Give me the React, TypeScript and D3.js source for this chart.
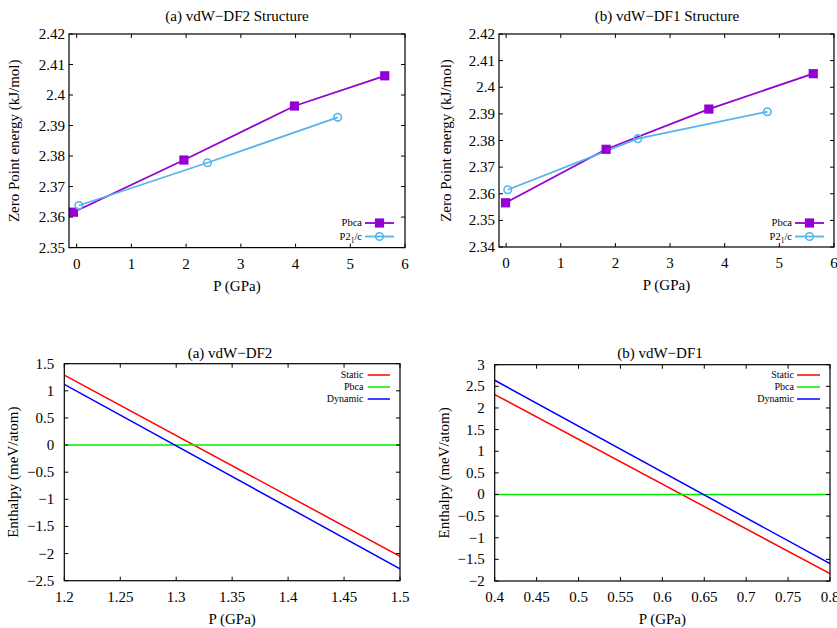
import React from "react";
import * as d3 from "d3";

// ---------- data ----------
const df2PbcaP = [-0.06, 1.96, 3.98, 5.63];
const df2PbcaZ = [2.3616, 2.3787, 2.3964, 2.4063];
const df2P21P = [0.04, 2.39, 4.77];
const df2P21Z = [2.3638, 2.3778, 2.3927];

const df1PbcaP = [-0.01, 1.83, 3.71, 5.62];
const df1PbcaZ = [2.3566, 2.3767, 2.3918, 2.4051];
const df1P21P = [0.03, 2.41, 4.78];
const df1P21Z = [2.3615, 2.3807, 2.3908];

const df2EnthP = [1.2, 1.5];
const df2Static = [1.29, -2.05];
const df2Pbca = [0, 0];
const df2Dynamic = [1.12, -2.28];

const df1EnthP = [0.4, 0.8];
const df1Static = [2.31, -1.83];
const df1Pbca = [0, 0];
const df1Dynamic = [2.64, -1.6];

const zpeXTicks = [0, 1, 2, 3, 4, 5, 6];
const zpeYTicksA = [2.35, 2.36, 2.37, 2.38, 2.39, 2.4, 2.41, 2.42];
const zpeYTicksB = [2.34, 2.35, 2.36, 2.37, 2.38, 2.39, 2.4, 2.41, 2.42];
const enthXTicksA = [1.2, 1.25, 1.3, 1.35, 1.4, 1.45, 1.5];
const enthYTicksA = [-2.5, -2, -1.5, -1, -0.5, 0, 0.5, 1, 1.5];
const enthXTicksB = [0.4, 0.45, 0.5, 0.55, 0.6, 0.65, 0.7, 0.75, 0.8];
const enthYTicksB = [-2, -1.5, -1, -0.5, 0, 0.5, 1, 1.5, 2, 2.5, 3];

const PURPLE = "#9400d3";
const SKY = "#56b4e9";
const RED = "#ff0000";
const GREEN = "#00ee00";
const BLUE = "#0000ff";

const FONT = "Liberation Serif, Times New Roman, serif";
const FS = 15;
const fmt = d3.format("~g");

type Series = {
  name: React.ReactNode;
  xs: number[];
  ys: number[];
  color: string;
  marker?: "square" | "circle";
};

type PanelProps = {
  title: string;
  titleX: number;
  titleY: number;
  ylabel: string;
  ylabelX: number;
  x0: number;
  x1: number;
  y0: number;
  y1: number;
  xDomain: [number, number];
  yDomain: [number, number];
  xTicks: number[];
  yTicks: number[];
  yLabelGap: number;
  series: Series[];
  legendTextX: number;
  legendLine: [number, number];
  legendY: number;
  legendStep: number;
  legendFont: number;
  lineWidth: number;
};

function Marker({ kind, x, y, color }: { kind?: string; x: number; y: number; color: string }) {
  if (kind === "square")
    return <rect x={x - 4.6} y={y - 4.6} width={9.2} height={9.2} fill={color} />;
  if (kind === "circle")
    return <circle cx={x} cy={y} r={3.8} fill="none" stroke={color} strokeWidth={1.6} />;
  return null;
}

function Panel(p: PanelProps) {
  const xs = d3.scaleLinear().domain(p.xDomain).range([p.x0, p.x1]);
  const ys = d3.scaleLinear().domain(p.yDomain).range([p.y1, p.y0]);
  const line = d3
    .line<[number, number]>()
    .x((d) => xs(d[0]))
    .y((d) => ys(d[1]));
  const tk = 4;
  const clipId = `clip-${Math.round(p.x0)}-${Math.round(p.y0)}`;
  return (
    <g>
      <text x={p.titleX} y={p.titleY} textAnchor="middle" fontSize={FS} fontFamily={FONT} fill="#000">
        {p.title}
      </text>
      <defs>
        <clipPath id={clipId}>
          <rect x={p.x0} y={p.y0} width={p.x1 - p.x0} height={p.y1 - p.y0} />
        </clipPath>
      </defs>
      <g clipPath={`url(#${clipId})`}>
        {p.series.map((s, i) => (
          <path
            key={i}
            d={line(s.xs.map((x, j) => [x, s.ys[j]] as [number, number])) || ""}
            fill="none"
            stroke={s.color}
            strokeWidth={p.lineWidth}
          />
        ))}
      </g>
      {p.series.map((s, i) =>
        s.xs.map((x, j) => <Marker key={`${i}-${j}`} kind={s.marker} x={xs(x)} y={ys(s.ys[j])} color={s.color} />)
      )}
      {p.xTicks.map((t) => (
        <g key={`xt${t}`}>
          <line x1={xs(t)} x2={xs(t)} y1={p.y1} y2={p.y1 - tk} stroke="#000" strokeWidth={1} />
          <line x1={xs(t)} x2={xs(t)} y1={p.y0} y2={p.y0 + tk} stroke="#000" strokeWidth={1} />
          <text x={xs(t)} y={p.y1 + 21} textAnchor="middle" fontSize={FS} fontFamily={FONT} fill="#000">
            {fmt(t)}
          </text>
        </g>
      ))}
      {p.yTicks.map((t) => (
        <g key={`yt${t}`}>
          <line x1={p.x0} x2={p.x0 + tk} y1={ys(t)} y2={ys(t)} stroke="#000" strokeWidth={1} />
          <line x1={p.x1} x2={p.x1 - tk} y1={ys(t)} y2={ys(t)} stroke="#000" strokeWidth={1} />
          <text x={p.x0 - p.yLabelGap} y={ys(t) + 5} textAnchor="end" fontSize={FS} fontFamily={FONT} fill="#000">
            {fmt(t)}
          </text>
        </g>
      ))}
      <rect x={p.x0} y={p.y0} width={p.x1 - p.x0} height={p.y1 - p.y0} fill="none" stroke="#000" strokeWidth={1.2} />
      <text x={(p.x0 + p.x1) / 2} y={p.y1 + 43} textAnchor="middle" fontSize={FS} fontFamily={FONT} fill="#000">
        P (GPa)
      </text>
      <text
        transform={`translate(${p.ylabelX},${(p.y0 + p.y1) / 2}) rotate(-90)`}
        textAnchor="middle"
        dominantBaseline="central"
        fontSize={FS}
        fontFamily={FONT}
        fill="#000"
      >
        {p.ylabel}
      </text>
      {p.series.map((s, i) => {
        const y = p.legendY + i * p.legendStep;
        const mx = (p.legendLine[0] + p.legendLine[1]) / 2;
        return (
          <g key={`lg${i}`}>
            <text x={p.legendTextX} y={y + p.legendFont * 0.33} textAnchor="end" fontSize={p.legendFont} fontFamily={FONT} fill="#000">
              {s.name}
            </text>
            <line x1={p.legendLine[0]} x2={p.legendLine[1]} y1={y} y2={y} stroke={s.color} strokeWidth={p.lineWidth} />
            <Marker kind={s.marker} x={mx} y={y} color={s.color} />
          </g>
        );
      })}
    </g>
  );
}

const P21name = (
  <>
    P2<tspan dy={3} fontSize={7.5}>1</tspan>
    <tspan dy={-3}>/c</tspan>
  </>
);

export default function App() {
  return (
    <svg
      width={837}
      height={628}
      viewBox="0 0 837 628"
      style={{ position: "absolute", left: 0, top: 0, background: "#fff" }}
    >
      <rect width={837} height={628} fill="#fff" />
      <Panel
        title="(a) vdW−DF2 Structure"
        titleX={237}
        titleY={21}
        ylabel="Zero Point energy (kJ/mol)"
        ylabelX={14}
        x0={69}
        x1={405}
        y0={34}
        y1={247.6}
        xDomain={[-0.14, 6]}
        yDomain={[2.35, 2.42]}
        xTicks={zpeXTicks}
        yTicks={zpeYTicksA}
        yLabelGap={4}
        series={[
          { name: "Pbca", xs: df2PbcaP, ys: df2PbcaZ, color: PURPLE, marker: "square" },
          { name: P21name, xs: df2P21P, ys: df2P21Z, color: SKY, marker: "circle" },
        ]}
        legendTextX={362}
        legendLine={[365, 394]}
        legendY={223}
        legendStep={13.5}
        legendFont={10.5}
        lineWidth={1.8}
      />
      <Panel
        title="(b) vdW−DF1 Structure"
        titleX={667}
        titleY={21}
        ylabel="Zero Point energy (kJ/mol)"
        ylabelX={446}
        x0={499}
        x1={834}
        y0={34}
        y1={247}
        xDomain={[-0.13, 6]}
        yDomain={[2.34, 2.42]}
        xTicks={zpeXTicks}
        yTicks={zpeYTicksB}
        yLabelGap={4}
        series={[
          { name: "Pbca", xs: df1PbcaP, ys: df1PbcaZ, color: PURPLE, marker: "square" },
          { name: P21name, xs: df1P21P, ys: df1P21Z, color: SKY, marker: "circle" },
        ]}
        legendTextX={792}
        legendLine={[795, 824]}
        legendY={223}
        legendStep={13.5}
        legendFont={10.5}
        lineWidth={1.8}
      />
      <Panel
        title="(a) vdW−DF2"
        titleX={230}
        titleY={358}
        ylabel="Enthalpy (meV/atom)"
        ylabelX={13}
        x0={64.3}
        x1={400}
        y0={363.7}
        y1={580.7}
        xDomain={[1.2, 1.5]}
        yDomain={[-2.5, 1.5]}
        xTicks={enthXTicksA}
        yTicks={enthYTicksA}
        yLabelGap={10}
        series={[
          { name: "Static", xs: df2EnthP, ys: df2Static, color: RED },
          { name: "Pbca", xs: df2EnthP, ys: df2Pbca, color: GREEN },
          { name: "Dynamic", xs: df2EnthP, ys: df2Dynamic, color: BLUE },
        ]}
        legendTextX={363.5}
        legendLine={[367.7, 390]}
        legendY={375}
        legendStep={12}
        legendFont={10}
        lineWidth={1.5}
      />
      <Panel
        title="(b) vdW−DF1"
        titleX={660}
        titleY={358}
        ylabel="Enthalpy (meV/atom)"
        ylabelX={444}
        x0={494.7}
        x1={830}
        y0={364.7}
        y1={581}
        xDomain={[0.4, 0.8]}
        yDomain={[-2, 3]}
        xTicks={enthXTicksB}
        yTicks={enthYTicksB}
        yLabelGap={10}
        series={[
          { name: "Static", xs: df1EnthP, ys: df1Static, color: RED },
          { name: "Pbca", xs: df1EnthP, ys: df1Pbca, color: GREEN },
          { name: "Dynamic", xs: df1EnthP, ys: df1Dynamic, color: BLUE },
        ]}
        legendTextX={794}
        legendLine={[797, 820]}
        legendY={375}
        legendStep={12}
        legendFont={10}
        lineWidth={1.5}
      />
    </svg>
  );
}
